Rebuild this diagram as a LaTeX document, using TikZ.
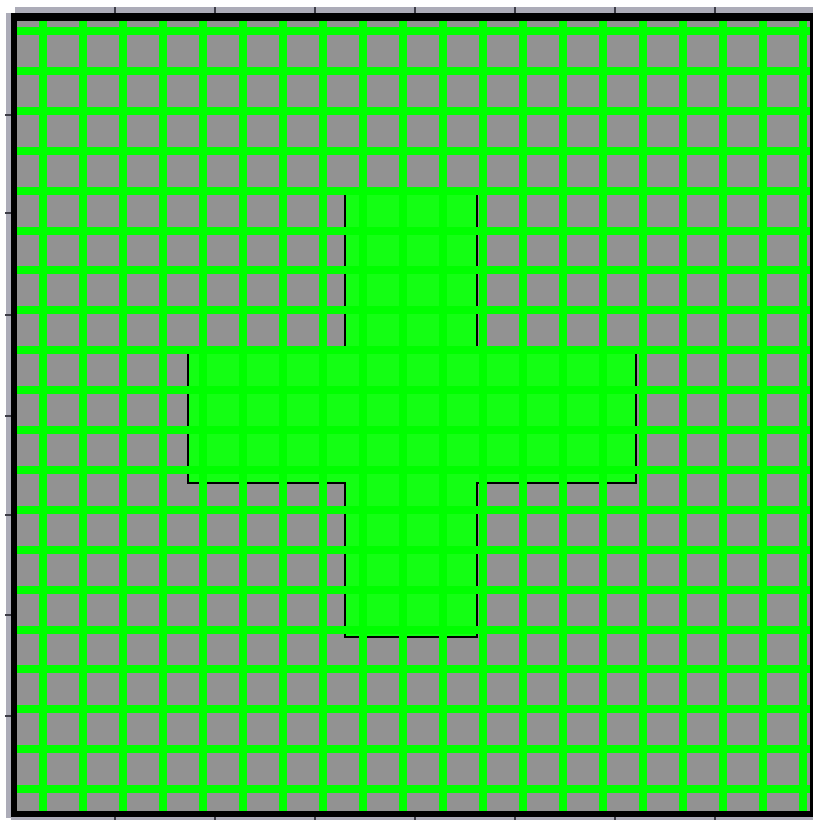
\documentclass[tikz,border=0pt]{standalone}
\usepackage{tikz}
\definecolor{bggray}{RGB}{146,146,146}
\definecolor{gridgreen}{RGB}{0,255,0}
\definecolor{crossgreen}{RGB}{20,255,20}
\definecolor{strip}{RGB}{172,172,184}
\definecolor{tickc}{RGB}{60,60,70}
\tikzset{
  gridline/.style={draw=gridgreen, line width=8pt},
  stripbox/.style={fill=strip, draw=none},
  tickmark/.style={draw=tickc, line width=1.2pt},
  crossshape/.style={fill=crossgreen, draw=black, line width=2.6pt, line join=miter}
}
\begin{document}
\begin{tikzpicture}[x=1pt, y=-1pt]
\useasboundingbox (0,0) rectangle (813,820);
\fill[white] (0,0) rectangle (813,820);
% ruler strips
\path[stripbox] (15,7) rectangle (813,13);
\path[stripbox] (6,13) rectangle (11,818);
\path[stripbox] (11,817) rectangle (813,820);
\foreach \t in {115,215,315,415,515,615,715} {
  \draw[tickmark] (\t,7) -- (\t,13);
  \draw[tickmark] (\t,817) -- (\t,820);
}
\foreach \t in {115,213,315,416,515,615,716} {
  \draw[tickmark] (5,\t) -- (11,\t);
}
% frame
\fill[black] (11,13) rectangle (813,817);
\fill[bggray] (17,21) rectangle (810,811);
% cross
\draw[crossshape] (345,193) -- (477,193) -- (477,353) -- (636,353) -- (636,483)
  -- (477,483) -- (477,637) -- (345,637) -- (345,483) -- (188,483)
  -- (188,353) -- (345,353) -- cycle;
% grid on top
\foreach \k in {0,...,19} {
  \draw[gridline] ({43+40*\k},21) -- ({43+40*\k},811);
  \draw[gridline] (17,{31+39.9*\k}) -- (810,{31+39.9*\k});
}
\end{tikzpicture}
\end{document}
